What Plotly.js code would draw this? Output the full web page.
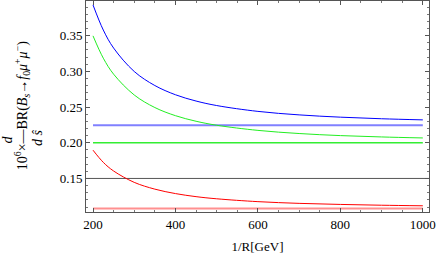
<!DOCTYPE html>
<html>
<head>
<meta charset="utf-8">
<script src="https://cdn.plot.ly/plotly-3.0.1.min.js"></script>
<style>html,body{margin:0;padding:0;background:#fff}#chart{width:436px;height:254px}</style>
</head>
<body>
<div id="chart"></div>
<script>
// 1/R in GeV
const invR = [200, 225, 250, 300, 350, 400, 450, 500, 600, 700, 800, 900, 1000];
// UED predictions (curves)
const blueCurve  = [0.3930, 0.3578, 0.3326, 0.2998, 0.2801, 0.2672, 0.2584, 0.2521, 0.2439, 0.2390, 0.2358, 0.2336, 0.2320];
const greenCurve = [0.3497, 0.3184, 0.2960, 0.2669, 0.2493, 0.2379, 0.2301, 0.2245, 0.2173, 0.2129, 0.2100, 0.2081, 0.2067];
const redCurve   = [0.1896, 0.1725, 0.1604, 0.1445, 0.1350, 0.1288, 0.1245, 0.1215, 0.1175, 0.1151, 0.1136, 0.1125, 0.1117];
// SM values (horizontal lines)
const smX = [200, 1000];
const blueSM  = [0.2244, 0.2244];
const greenSM = [0.2000, 0.2000];
const redSM   = [0.1080, 0.1080];
const refX = [183, 1015];
const refLine = [0.15, 0.15];
// axis ticks
const xTicks = [200, 400, 600, 800, 1000];
const yTicks = [0.15, 0.20, 0.25, 0.30, 0.35];
const yTickText = ["0.15", "0.20", "0.25", "0.30", "0.35"];

const traces = [
  {x: refX, y: refLine, mode: 'lines', line: {color: '#555555', width: 1}},
  {x: smX, y: redSM, mode: 'lines', line: {color: '#ff9090', width: 2}},
  {x: smX, y: greenSM, mode: 'lines', line: {color: '#33ee33', width: 1.6}},
  {x: smX, y: blueSM, mode: 'lines', line: {color: '#8080ff', width: 2}},
  {x: invR, y: redCurve, mode: 'lines', line: {color: '#ff0000', width: 1, shape: 'spline'}},
  {x: invR, y: greenCurve, mode: 'lines', line: {color: '#22ee22', width: 1, shape: 'spline'}},
  {x: invR, y: blueCurve, mode: 'lines', line: {color: '#0000ff', width: 1, shape: 'spline'}}
];

const SERIF = 'Liberation Serif';
function f(s) { return {family: SERIF, size: s || 13, color: '#000'}; }

const layout = {
  width: 436, height: 254,
  margin: {l: 86, r: 7, t: 1, b: 42},
  paper_bgcolor: '#fff', plot_bgcolor: '#fff',
  showlegend: false,
  font: f(),
  xaxis: {
    showline: true, linecolor: '#555', linewidth: 1, mirror: 'allticks',
    ticks: 'inside', ticklen: 4, tickcolor: '#555', tickwidth: 1,
    showgrid: false, zeroline: false, tickfont: f(13),
    range: [183, 1015], tickmode: 'array', tickvals: xTicks, ticktext: xTicks.map(String),
    minor: {ticks: 'inside', ticklen: 2, dtick: 50, tick0: 0, tickcolor: '#777', showgrid: false},
    title: {text: '1/R[GeV]', font: f(13), standoff: 14}
  },
  yaxis: {
    showline: true, linecolor: '#555', linewidth: 1, mirror: 'allticks',
    ticks: 'inside', ticklen: 4, tickcolor: '#555', tickwidth: 1,
    showgrid: false, zeroline: false, tickfont: f(13),
    range: [0.103, 0.3985], tickmode: 'array', tickvals: yTicks, ticktext: yTickText,
    minor: {ticks: 'inside', ticklen: 2, dtick: 0.01, tick0: 0, tickcolor: '#777', showgrid: false}
  },
  annotations: [
    {xref: 'paper', yref: 'paper', x: -0.228, y: 0.343, xanchor: 'center', yanchor: 'middle',
     text: '<i>d</i>', textangle: -90, showarrow: false, font: f(14)},
    {xref: 'paper', yref: 'paper', x: -0.186, y: 0.502, xanchor: 'center', yanchor: 'middle',
     text: '10<sup>6</sup>×—BR(<i>B</i><sub><i>s</i></sub>→<i>f</i><sub>0</sub><i>μ</i><sup>+</sup><i>μ</i><sup>−</sup>)',
     textangle: -90, showarrow: false, font: f(14)},
    {xref: 'paper', yref: 'paper', x: -0.142, y: 0.352, xanchor: 'center', yanchor: 'middle',
     text: '<i>d ŝ</i>', textangle: -90, showarrow: false, font: f(14)}
  ]
};

Plotly.newPlot('chart', traces, layout, {displayModeBar: false, staticPlot: true});
</script>
</body>
</html>
